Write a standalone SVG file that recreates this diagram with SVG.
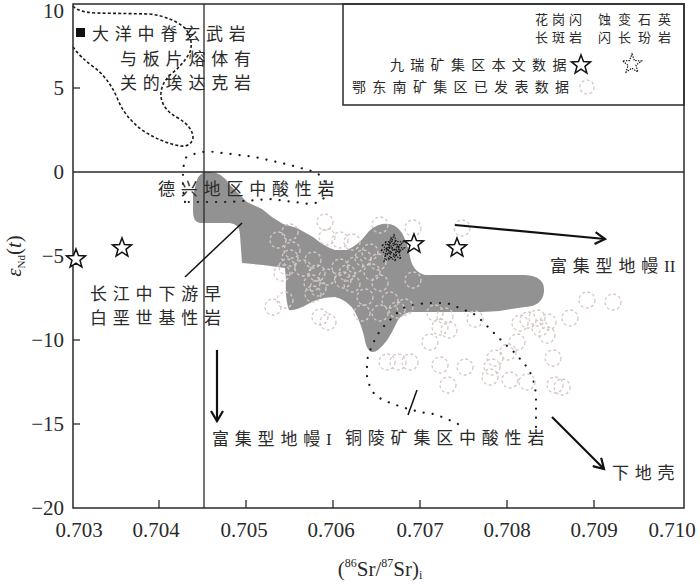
<svg xmlns="http://www.w3.org/2000/svg" width="700" height="584" viewBox="0 0 700 584">
<defs>
<style>
.ax{stroke:#2a2a2a;stroke-width:1.5;fill:none}
.tk{stroke:#2a2a2a;stroke-width:1.3}
.num{font-family:"Liberation Serif",serif;font-size:21px;fill:#2a2a2a}
.cn{font-family:"Noto Sans CJK SC",sans-serif;font-size:17px;letter-spacing:5.8px;fill:#2a2a2a}
.lg{font-family:"Noto Sans CJK SC",sans-serif;font-size:14px;letter-spacing:6.3px;fill:#2a2a2a}
.lg2{font-family:"Noto Sans CJK SC",sans-serif;font-size:13px;fill:#2a2a2a}
.c{fill:none;stroke:#d6c8c4;stroke-width:1.3;stroke-dasharray:3 2.4}
.dot{fill:none;stroke:#1a1a1a;stroke-width:2.2;stroke-linecap:round;stroke-dasharray:0.1 9}
.dash{fill:none;stroke:#1a1a1a;stroke-width:1.6;stroke-dasharray:3 2.2}
.arr{stroke:#111;stroke-width:2.2;fill:none}
.ld{stroke:#111;stroke-width:1.5;fill:none}
.os{fill:#fff;stroke:#111;stroke-width:1.5}
.ds{fill:none;stroke:#111;stroke-width:1.2;stroke-dasharray:1.4 1.2}
</style>
<path id="star" d="M0,-10 L2.47,-3.4 L9.51,-3.09 L3.99,1.3 L5.88,8.09 L0,4.2 L-5.88,8.09 L-3.99,1.3 L-9.51,-3.09 L-2.47,-3.4 Z"/>
<marker id="ah" markerWidth="14" markerHeight="14" refX="11" refY="7" orient="auto" markerUnits="userSpaceOnUse">
<path d="M1,1 L11,7 L1,13" fill="none" stroke="#111" stroke-width="2.2"/>
</marker>
</defs>
<rect width="700" height="584" fill="#fff"/>

<g id="fields">
<path id="gray-field" fill="#929292" d="M197,180 Q200,171 210,172 Q222,172 230,185 L247,202 L262,209 L272,217 L283,224 L297,228 L313,237 Q325,247 335,250 L347,250 Q358,245 365,236 Q372,226 382,224 Q395,222 402,233 Q408,244 410,257 Q413,272 425,275 L525,275 Q545,276 544,291 Q543,306 525,307 L505,310 Q495,312 470,312 L410,312 Q400,314 396,324 Q388,342 378,350 Q370,356 366,345 Q362,325 355,312 Q348,300 335,297 Q320,297 308,304 Q296,311 289,310 Q285,300 286,280 L285,268 L263,265 L242,263 L240,235 Q240,224 230,223 L200,223 Q193,222 193,212 L193,195 Z"/>
<path id="morb-adakite" class="dash" d="M73,6 Q78,12 95,13 L150,14 Q172,17 185,28 Q194,40 190,52 Q183,65 170,75 Q160,85 161,97 Q163,110 178,118 Q193,127 193,138 Q191,147 180,146 Q160,142 142,130 Q125,117 118,100 Q110,80 95,68 Q80,57 73,47"/>
<path id="dexing" class="dot" d="M185,202 L183,190 L183,170 L185,158 Q200,150 215,152 L255,157 L290,165 L315,172 Q326,178 327,190 Q326,202 310,204 L270,199 L230,202 Z"/>
<path id="tongling" class="dot" d="M458,424 L445,418 L433,414 L420,412 L405,408 L393,404 L383,400 L375,395 L370,387 L367,377 L367,365 L368,355 L372,346 L376,337 L382,328 L390,320 L397,313 L405,307 L415,305 L425,303 L437,303 L447,303 L457,307 L467,311 L476,315 L483,322 L491,330 L498,337 L506,345 L514,352 L521,360 L527,367 L532,376 L535,386 L536,397 L536,408 L536,420 L536,440"/>
</g>

<g id="edong-data">
<circle class="c" cx="278" cy="240" r="8"/><circle class="c" cx="290" cy="232" r="8"/><circle class="c" cx="292" cy="250" r="8"/><circle class="c" cx="290" cy="258" r="8"/><circle class="c" cx="287" cy="267" r="8"/><circle class="c" cx="282" cy="273" r="8"/><circle class="c" cx="285" cy="300" r="8"/><circle class="c" cx="273" cy="307" r="8"/><circle class="c" cx="303" cy="268" r="8"/><circle class="c" cx="313" cy="260" r="8"/><circle class="c" cx="317" cy="273" r="8"/><circle class="c" cx="327" cy="277" r="8"/><circle class="c" cx="312" cy="283" r="8"/><circle class="c" cx="318" cy="288" r="8"/><circle class="c" cx="313" cy="294" r="8"/><circle class="c" cx="320" cy="317" r="8"/><circle class="c" cx="328" cy="322" r="8"/>
<circle class="c" cx="325" cy="222" r="8"/><circle class="c" cx="327" cy="237" r="8"/><circle class="c" cx="340" cy="240" r="8"/><circle class="c" cx="352" cy="242" r="8"/><circle class="c" cx="380" cy="225" r="8"/><circle class="c" cx="413" cy="228" r="8"/><circle class="c" cx="462" cy="228" r="8"/>
<circle class="c" cx="340" cy="267" r="8"/><circle class="c" cx="347" cy="273" r="8"/><circle class="c" cx="355" cy="265" r="8"/><circle class="c" cx="343" cy="280" r="8"/><circle class="c" cx="352" cy="284" r="8"/><circle class="c" cx="363" cy="258" r="8"/><circle class="c" cx="370" cy="252" r="8"/><circle class="c" cx="378" cy="262" r="8"/><circle class="c" cx="372" cy="272" r="8"/><circle class="c" cx="380" cy="283" r="8"/><circle class="c" cx="365" cy="297" r="8"/><circle class="c" cx="390" cy="300" r="8"/><circle class="c" cx="362" cy="313" r="8"/><circle class="c" cx="380" cy="313" r="8"/><circle class="c" cx="397" cy="310" r="8"/><circle class="c" cx="405" cy="307" r="8"/><circle class="c" cx="413" cy="280" r="8"/>
<circle class="c" cx="435" cy="313" r="8"/><circle class="c" cx="445" cy="316" r="8"/><circle class="c" cx="440" cy="327" r="8"/><circle class="c" cx="449" cy="330" r="8"/><circle class="c" cx="430" cy="342" r="8"/><circle class="c" cx="475" cy="319" r="8"/><circle class="c" cx="520" cy="323" r="8"/><circle class="c" cx="528" cy="320" r="8"/><circle class="c" cx="537" cy="318" r="8"/><circle class="c" cx="540" cy="328" r="8"/><circle class="c" cx="548" cy="322" r="8"/><circle class="c" cx="570" cy="318" r="8"/><circle class="c" cx="547" cy="335" r="8"/><circle class="c" cx="587" cy="300" r="8"/><circle class="c" cx="613" cy="302" r="8"/><circle class="c" cx="517" cy="342" r="8"/><circle class="c" cx="508" cy="352" r="8"/><circle class="c" cx="495" cy="358" r="8"/><circle class="c" cx="492" cy="367" r="8"/><circle class="c" cx="465" cy="367" r="8"/><circle class="c" cx="490" cy="377" r="8"/><circle class="c" cx="510" cy="380" r="8"/><circle class="c" cx="527" cy="382" r="8"/><circle class="c" cx="553" cy="358" r="8"/><circle class="c" cx="555" cy="385" r="8"/><circle class="c" cx="562" cy="387" r="8"/><circle class="c" cx="440" cy="365" r="8"/><circle class="c" cx="448" cy="385" r="8"/><circle class="c" cx="387" cy="362" r="8"/><circle class="c" cx="398" cy="362" r="8"/><circle class="c" cx="410" cy="362" r="8"/>
</g>

<g id="axes">
<rect class="ax" x="73" y="4" width="611" height="504"/>
<line class="tk" x1="73" y1="172" x2="684" y2="172"/>
<line class="tk" x1="204" y1="4" x2="204" y2="508"/>
<g class="tk">
<line x1="73" y1="88" x2="80" y2="88"/><line x1="73" y1="256" x2="80" y2="256"/><line x1="73" y1="340" x2="80" y2="340"/><line x1="73" y1="424" x2="80" y2="424"/>
<line x1="159" y1="508" x2="159" y2="500"/><line x1="246" y1="508" x2="246" y2="500"/><line x1="333" y1="508" x2="333" y2="500"/><line x1="420" y1="508" x2="420" y2="500"/><line x1="507" y1="508" x2="507" y2="500"/><line x1="594" y1="508" x2="594" y2="500"/>
</g>
<g class="num" text-anchor="end">
<text x="64" y="18">10</text><text x="64" y="95">5</text><text x="64" y="179">0</text><text x="64" y="263">−5</text><text x="64" y="347">−10</text><text x="64" y="431">−15</text><text x="64" y="515">−20</text>
</g>
<g class="num" text-anchor="middle">
<text x="79" y="537">0.703</text><text x="156" y="537">0.704</text><text x="244" y="537">0.705</text><text x="331" y="537">0.706</text><text x="420" y="537">0.707</text><text x="507" y="537">0.708</text><text x="594" y="537">0.709</text><text x="672" y="537">0.710</text>
</g>
<text class="num" x="380" y="576" text-anchor="middle">(<tspan font-size="12" dy="-9">86</tspan><tspan dy="9">Sr/</tspan><tspan font-size="12" dy="-9">87</tspan><tspan dy="9">Sr)</tspan><tspan font-size="12" dy="3">i</tspan></text>
<text class="num" transform="translate(21,256) rotate(-90)" text-anchor="middle"><tspan font-style="italic">ε</tspan><tspan font-size="11" dy="4">Nd</tspan><tspan dy="-4">(</tspan><tspan font-style="italic">t</tspan>)</text>
</g>

<g id="connectors">
<line class="arr" x1="455" y1="225" x2="605" y2="239" marker-end="url(#ah)"/>
<line class="arr" x1="217" y1="350" x2="217" y2="421" marker-end="url(#ah)"/>
<line class="arr" x1="552" y1="417" x2="604" y2="469" marker-end="url(#ah)"/>
<line class="ld" x1="185" y1="277" x2="242" y2="223"/>
<line class="ld" x1="408" y1="415" x2="417" y2="390"/>
</g>

<g id="jiurui-data">
<use href="#star" class="os" x="76" y="259"/>
<use href="#star" class="os" x="122" y="248"/>
<use href="#star" class="os" x="414" y="244"/>
<use href="#star" class="os" x="457" y="248"/>
<g id="dotted-cluster">
<use href="#star" class="ds" x="391" y="248"/>
<use href="#star" class="ds" x="395" y="251"/>
<use href="#star" class="ds" x="394" y="245"/>
<use href="#star" class="ds" x="390" y="253"/>
</g>
</g>

<g id="labels">
<rect id="morb-marker" x="76" y="28" width="9" height="9" fill="#111"/>
<text id="lbl-morb" class="cn" x="92" y="40">大洋中脊玄武岩</text>
<text id="lbl-adakite1" class="cn" x="120" y="65">与板片熔体有</text>
<text id="lbl-adakite2" class="cn" x="120" y="89">关的埃达克岩</text>
<text id="lbl-dexing" class="cn" x="158" y="195">德兴地区中酸性岩</text>
<text id="lbl-basic1" class="cn" x="90" y="300">长江中下游早</text>
<text id="lbl-basic2" class="cn" x="90" y="324">白垩世基性岩</text>
<text id="lbl-em2" class="cn" x="550" y="272">富集型地幔<tspan font-family="Liberation Serif" letter-spacing="0">II</tspan></text>
<text id="lbl-em1" class="cn" x="212" y="445">富集型地幔<tspan font-family="Liberation Serif" letter-spacing="0">I</tspan></text>
<text id="lbl-tongling" class="cn" x="345" y="444">铜陵矿集区中酸性岩</text>
<text id="lbl-lc" class="cn" x="612" y="479">下地壳</text>
</g>

<g id="legend">
<rect class="ax" x="343" y="4" width="341" height="101"/>
<text class="lg2" x="535" y="24" letter-spacing="4">花岗闪</text>
<text class="lg2" x="598" y="24" letter-spacing="7">蚀变石英</text>
<text class="lg2" x="535" y="42" letter-spacing="4">长斑岩</text>
<text class="lg2" x="598" y="42" letter-spacing="7">闪长玢岩</text>
<text class="lg" x="390" y="70">九瑞矿集区本文数据</text>
<text class="lg" x="352" y="92">鄂东南矿集区已发表数据</text>
<use href="#star" class="os" x="581" y="65"/>
<use href="#star" class="ds" x="632" y="64"/>
<circle class="c" cx="587" cy="87" r="7"/>
</g>
</svg>
